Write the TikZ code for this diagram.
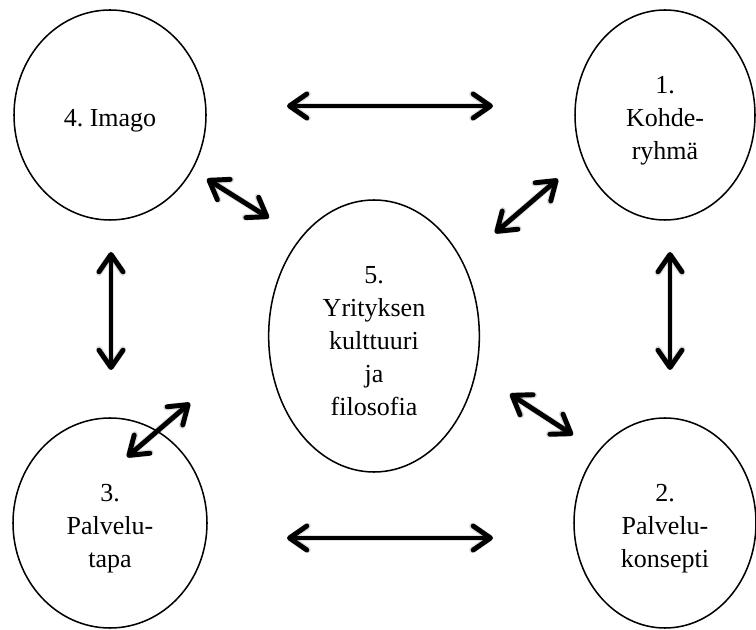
\documentclass[tikz,border=0pt]{standalone}
\usepackage{fontspec}
\setmainfont{Liberation Serif}
\usetikzlibrary{arrows.meta,shapes.geometric}
\frenchspacing
\begin{document}
\begin{tikzpicture}[x=0.75pt,y=-0.75pt,
  bubble/.style={draw=black, line width=1.15pt, ellipse, inner sep=0pt},
  caption/.style={align=center, font=\fontsize{19.5}{24.75}\selectfont, yshift=-4pt},
  link/.style={line width=3.7pt, line cap=round,
    >={Straight Barb[length=13pt,width=18pt,round]}, <->},
  linkshade/.style={link, draw=black, opacity=0.12, line width=5pt,
    xshift=1.5pt, yshift=-2.5pt}]
\useasboundingbox (0,0) rectangle (756,630);

% the five ellipses, each with its caption centred inside
\node[bubble, minimum width=144pt,   minimum height=157.5pt,
  label={[caption]center:4. Imago}] (imago) at (110,115) {};
\node[bubble, minimum width=135pt,   minimum height=157.5pt,
  label={[caption]center:1.\\Kohde-\\ryhmä}] (kohde) at (665,115) {};
\node[bubble, minimum width=145.5pt, minimum height=157.5pt,
  label={[caption]center:3.\\Palvelu-\\tapa}] (tapa) at (110,523) {};
\node[bubble, minimum width=136.5pt, minimum height=157.5pt,
  label={[caption]center:2.\\Palvelu-\\konsepti}] (konsepti) at (665,523) {};
\node[bubble, minimum width=158pt,   minimum height=204pt,
  label={[caption]center:5.\\Yrityksen\\kulttuuri\\ja\\filosofia}] (kulttuuri) at (374,336) {};

% arrow end points
\coordinate (tl) at (287,106);  \coordinate (tr) at (493,106);
\coordinate (bl) at (287,538);  \coordinate (br) at (493,538);
\coordinate (lt) at (111,252);  \coordinate (lb) at (111,370);
\coordinate (rt) at (670,252);  \coordinate (rb) at (670,370);
\coordinate (d1a) at (207,179); \coordinate (d1b) at (269,218);
\coordinate (d2a) at (495,233); \coordinate (d2b) at (558,179);
\coordinate (d3a) at (190,403); \coordinate (d3b) at (127,457);
\coordinate (d4a) at (510,394); \coordinate (d4b) at (573,435);

% faint drop shadows under the arrows
\foreach \a/\b in {tl/tr, bl/br, lt/lb, rt/rb, d1a/d1b, d2a/d2b, d3a/d3b, d4a/d4b}
  \draw[linkshade] (\a) -- (\b);

% double-headed arrows
\draw[link] (tl) -- (tr);
\draw[link] (bl) -- (br);
\draw[link] (lt) -- (lb);
\draw[link] (rt) -- (rb);
\draw[link] (d1a) -- (d1b);
\draw[link] (d2a) -- (d2b);
\draw[link] (d3a) -- (d3b);
\draw[link] (d4a) -- (d4b);
\end{tikzpicture}
\end{document}
